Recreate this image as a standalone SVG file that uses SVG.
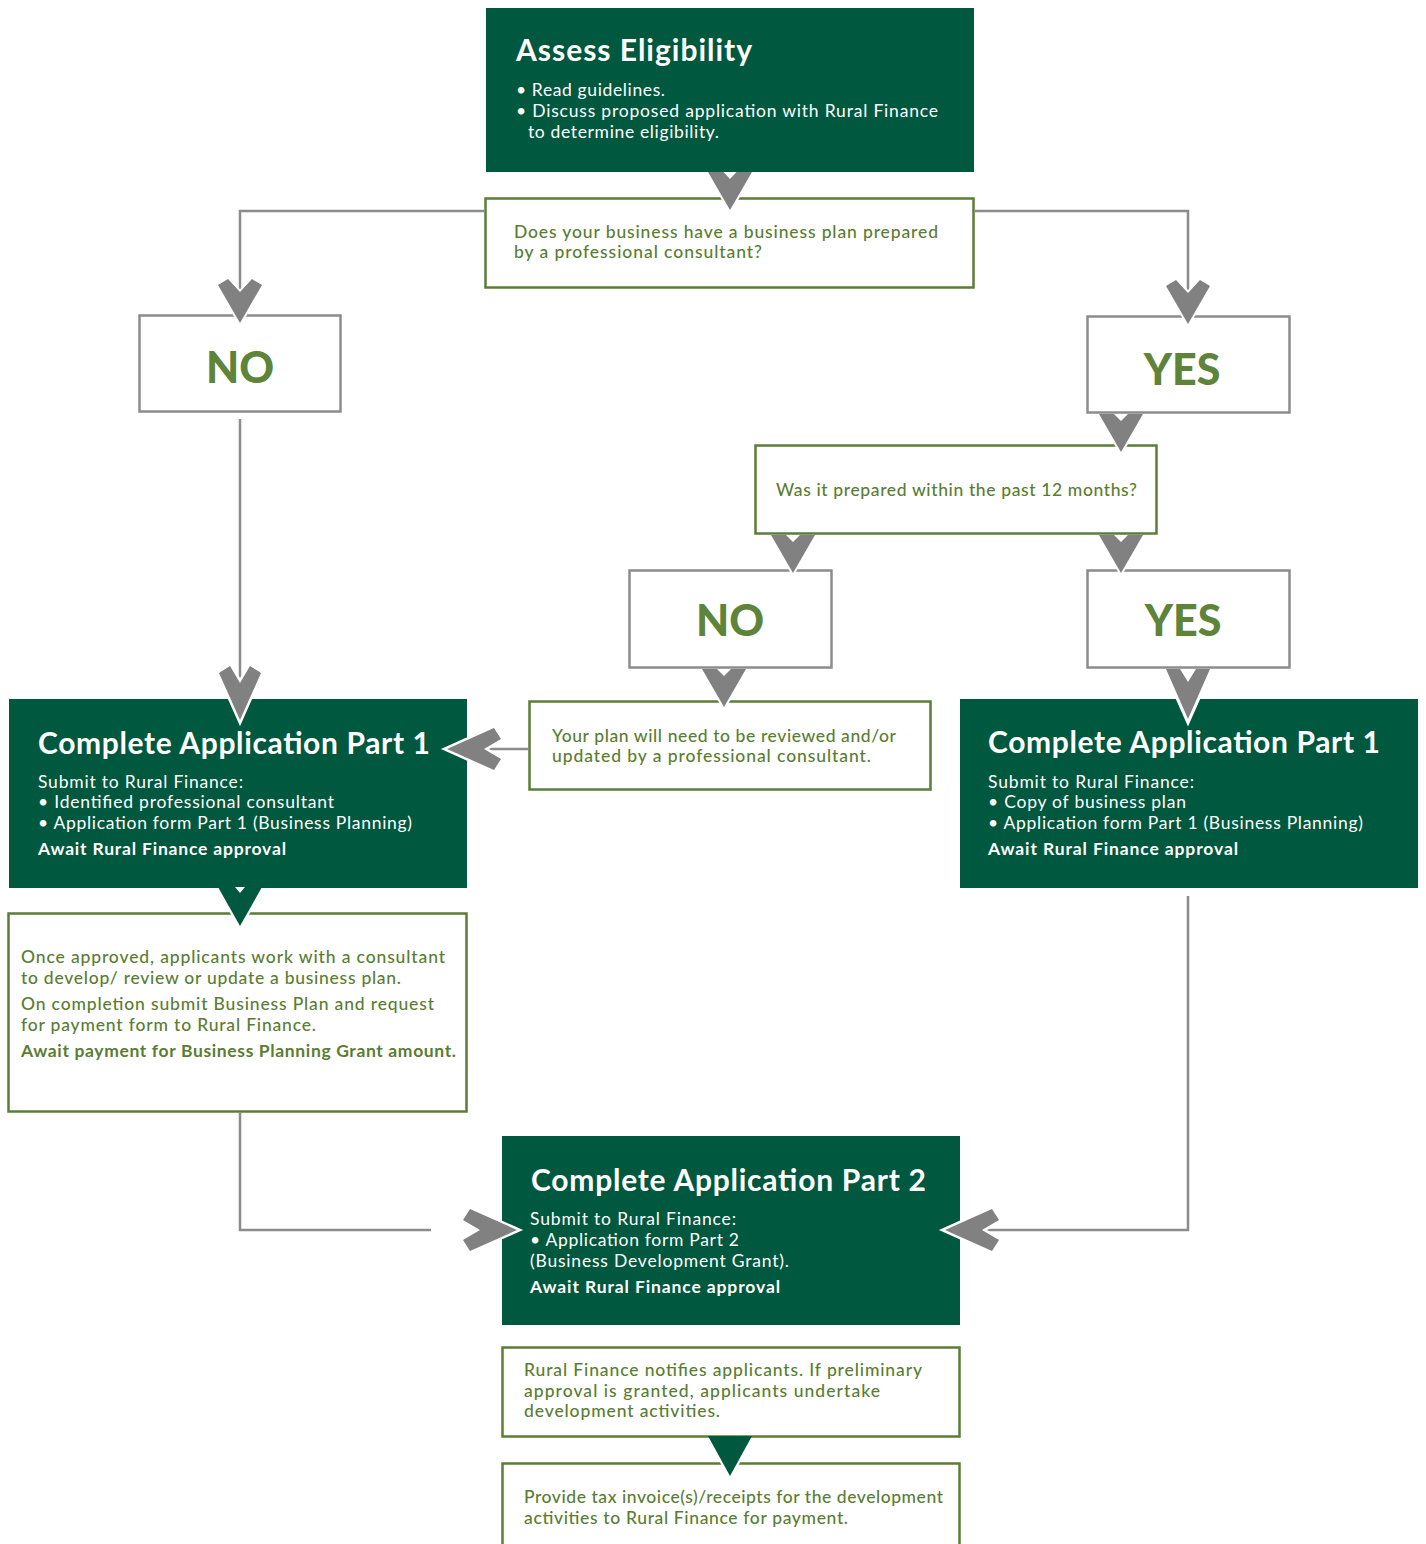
<svg xmlns="http://www.w3.org/2000/svg" width="1426" height="1544" viewBox="0 0 1426 1544">
<style>
.dark{fill:#00583f}
.gbox{fill:#fff;stroke:#5b7e34;stroke-width:2.5}
.graybox{fill:#fff;stroke:#8c8c8c;stroke-width:2.5}
.line{fill:none;stroke:#8c8c8c;stroke-width:2.5}
text{font-family:Lato,"Liberation Sans",sans-serif}
.title{font-size:30px;font-weight:700;fill:#fff}
.wb{font-size:17.5px;fill:#fff}
.wbb{font-size:17.5px;font-weight:700;fill:#fff}
.gt{font-size:17.5px;font-weight:500;fill:#5a7d33}
.gtb{font-size:17.5px;font-weight:700;fill:#5a7d33}
.big{font-size:43px;font-weight:900;fill:#5e8439;text-anchor:middle}
.arrow{fill:#818181}
.darrow{fill:#00583f}
.halo{fill:none;stroke:#fff;stroke-width:4;stroke-linejoin:miter}
.halo6{fill:none;stroke:#fff;stroke-width:6;stroke-linejoin:miter}
.chev{fill:#818181;stroke:#fff;stroke-width:4;paint-order:stroke;stroke-linejoin:miter}
.chevb{fill:#818181;stroke:#fff;stroke-width:5;paint-order:stroke;stroke-linejoin:miter}
</style>
<defs>
<path id="chevS" d="M0,0 L-22,-38 L-12,-44 L0,-31 L12,-44 L22,-38 Z"/>
<path id="chevB" d="M0,0 L-21,-47 L-10,-54 L0,-37 L10,-54 L21,-47 Z"/>
</defs>

<g id="node-assess">
<rect class="dark" x="486" y="8" width="488" height="164"/>
<text class="title" x="516" y="61" textLength="236">Assess Eligibility</text>
<text class="wb" x="516" y="96" textLength="149">• Read guidelines.</text>
<text class="wb" x="516" y="117" textLength="422">• Discuss proposed application with Rural Finance</text>
<text class="wb" x="528" y="138" textLength="191">to determine eligibility.</text>
</g>

<g id="node-q1">
<rect class="gbox" x="485.5" y="198.5" width="488" height="89"/>
<text class="gt" x="514" y="238" textLength="424">Does your business have a business plan prepared</text>
<text class="gt" x="514" y="258" textLength="248">by a professional consultant?</text>
</g>

<g id="node-no1">
<rect class="graybox" x="139.5" y="315.5" width="201" height="96"/>
<text class="big" x="240" y="383">NO</text>
</g>

<g id="node-yes1">
<rect class="graybox" x="1087.5" y="316.5" width="202" height="96"/>
<text class="big" x="1182" y="385">YES</text>
</g>

<g id="node-q2">
<rect class="gbox" x="755.5" y="445.5" width="401" height="88"/>
<text class="gt" x="776" y="496" textLength="361">Was it prepared within the past 12 months?</text>
</g>

<g id="node-no2">
<rect class="graybox" x="629.5" y="570.5" width="202" height="97"/>
<text class="big" x="730" y="636">NO</text>
</g>

<g id="node-yes2">
<rect class="graybox" x="1087.5" y="570.5" width="202" height="97"/>
<text class="big" x="1183" y="636">YES</text>
</g>

<g id="node-part1-left">
<rect class="dark" x="9" y="699" width="458" height="189"/>
<text class="title" x="38" y="754" textLength="392">Complete Application Part 1</text>
<text class="wb" x="38" y="788" textLength="205">Submit to Rural Finance:</text>
<text class="wb" x="38" y="808" textLength="296">• Identified professional consultant</text>
<text class="wb" x="38" y="829" textLength="374">• Application form Part 1 (Business Planning)</text>
<text class="wbb" x="38" y="855" textLength="248">Await Rural Finance approval</text>
</g>

<g id="node-review">
<rect class="gbox" x="529.5" y="701.5" width="401" height="88"/>
<text class="gt" x="552" y="742" textLength="344">Your plan will need to be reviewed and/or</text>
<text class="gt" x="552" y="762" textLength="319">updated by a professional consultant.</text>
</g>

<g id="node-part1-right">
<rect class="dark" x="960" y="699" width="458" height="189"/>
<text class="title" x="988" y="753" textLength="392">Complete Application Part 1</text>
<text class="wb" x="988" y="788" textLength="206">Submit to Rural Finance:</text>
<text class="wb" x="988" y="808" textLength="198">• Copy of business plan</text>
<text class="wb" x="988" y="829" textLength="375">• Application form Part 1 (Business Planning)</text>
<text class="wbb" x="988" y="855" textLength="250">Await Rural Finance approval</text>
</g>

<g id="node-approved">
<rect class="gbox" x="8.5" y="913.5" width="458" height="198"/>
<text class="gt" x="21" y="963" textLength="424">Once approved, applicants work with a consultant</text>
<text class="gt" x="21" y="984" textLength="380">to develop/ review or update a business plan.</text>
<text class="gt" x="21" y="1010" textLength="413">On completion submit Business Plan and request</text>
<text class="gt" x="21" y="1031" textLength="295">for payment form to Rural Finance.</text>
<text class="gtb" x="21" y="1057" textLength="435">Await payment for Business Planning Grant amount.</text>
</g>

<g id="node-part2">
<rect class="dark" x="502" y="1136" width="458" height="189"/>
<text class="title" x="531" y="1191" textLength="395">Complete Application Part 2</text>
<text class="wb" x="530" y="1225" textLength="206">Submit to Rural Finance:</text>
<text class="wb" x="530" y="1246" textLength="209">• Application form Part 2</text>
<text class="wb" x="530" y="1267" textLength="259">(Business Development Grant).</text>
<text class="wbb" x="530" y="1293" textLength="250">Await Rural Finance approval</text>
</g>

<g id="node-notify">
<rect class="gbox" x="502.5" y="1347.5" width="457" height="89"/>
<text class="gt" x="524" y="1376" textLength="398">Rural Finance notifies applicants. If preliminary</text>
<text class="gt" x="524" y="1397" textLength="356">approval is granted, applicants undertake</text>
<text class="gt" x="524" y="1417" textLength="196">development activities.</text>
</g>

<g id="node-invoice">
<rect class="gbox" x="502.5" y="1463.5" width="457" height="90"/>
<text class="gt" x="524" y="1503" textLength="419">Provide tax invoice(s)/receipts for the development</text>
<text class="gt" x="524" y="1524" textLength="324">activities to Rural Finance for payment.</text>
</g>

<g id="connectors">
<path class="line" d="M485,211 H240 V292"/>
<path class="line" d="M974,211 H1188 V293"/>
<path class="line" d="M240,419 V686"/>
<path class="line" d="M529,749 H484"/>
<path class="line" d="M240,1112 V1230 H431"/>
<path class="line" d="M1188,896 V1230 H984"/>

<use href="#chevS" class="chev" transform="translate(240,323)"/>
<use href="#chevS" class="chev" transform="translate(1188,324)"/>
<use href="#chevB" class="chevb" transform="translate(240,720)"/>
<use href="#chevB" class="chevb" transform="translate(447,749) rotate(90)"/>
<use href="#chevB" class="chevb" transform="translate(517,1230) rotate(-90)"/>
<use href="#chevB" class="chevb" transform="translate(945,1230) rotate(90)"/>

<path class="halo" d="M709.5,175 L730,210 L750.5,175"/>
<path class="arrow" d="M708,172 L730,210 L752,172 L736.5,172 L730,179 L723.5,172 Z"/>

<path class="halo" d="M1100.5,417 L1121,452 L1141.5,417"/>
<path class="arrow" d="M1099,414 L1121,452 L1143,414 L1128,414 L1121,421 L1114,414 Z"/>

<path class="halo" d="M772.5,538 L793,573 L813.5,538"/>
<path class="arrow" d="M771,535 L793,573 L815,535 L800,535 L793,542 L786,535 Z"/>

<path class="halo" d="M1100.5,538 L1121,573 L1141.5,538"/>
<path class="arrow" d="M1099,535 L1121,573 L1143,535 L1128,535 L1121,542 L1114,535 Z"/>

<path class="halo" d="M703.5,672 L724,707 L744.5,672"/>
<path class="arrow" d="M702,669 L724,707 L746,669 L731,669 L724,676 L717,669 Z"/>

<path class="halo6" d="M1168,674 L1188,719 L1208,674"/>
<path class="arrow" d="M1166,669 L1188,719 L1210,669 L1196,669 L1188,682 L1180,669 Z"/>

<path class="halo" d="M219.5,891 L240,926 L260.5,891"/>
<path class="darrow" d="M218,887 L240,926 L262,887 Z"/>
<path fill="#fff" d="M235,887 L240,893 L245,887 Z"/>

<path class="halo" d="M709.5,1440 L730,1476 L750.5,1440"/>
<path class="darrow" d="M708,1436 L730,1476 L752,1436 Z"/>
</g>
</svg>
